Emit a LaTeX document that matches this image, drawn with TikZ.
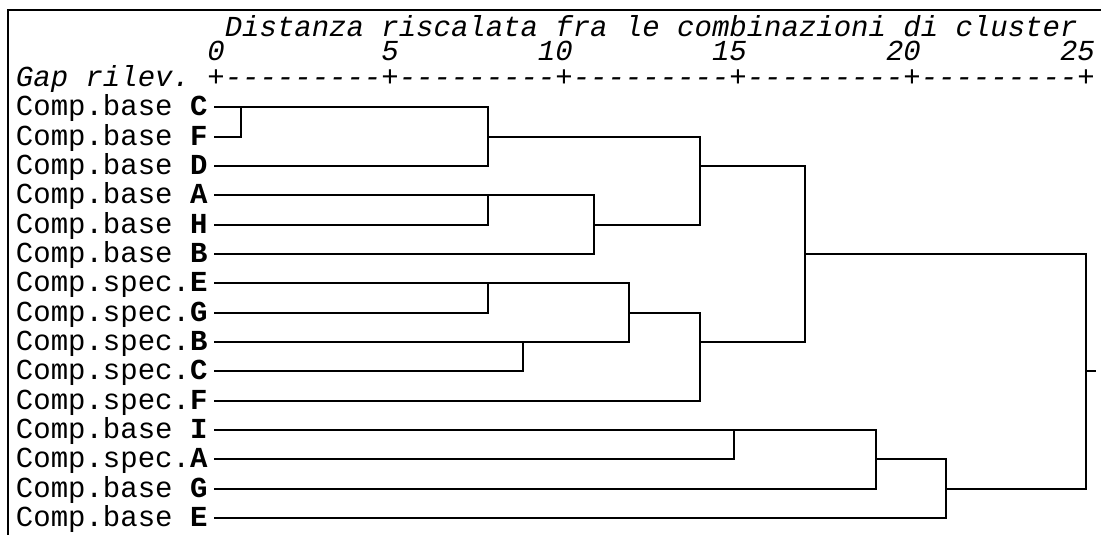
\documentclass[tikz,border=0pt]{standalone}
\usepackage{fontspec}
\setmonofont{Liberation Mono}
\begin{document}
\begin{tikzpicture}[x=1pt,y=-1pt,
  every node/.style={font=\ttfamily\fontsize{29}{29}\selectfont},
  lbl/.style={anchor=base west, inner sep=0pt, outer sep=0pt},
  num/.style={anchor=base east, inner sep=0pt, outer sep=0pt, text height=17pt, text depth=0pt, font=\ttfamily\itshape\fontsize{29}{29}\selectfont},
  hdr/.style={anchor=base west, inner sep=0pt, outer sep=0pt, text depth=0pt, font=\ttfamily\itshape\fontsize{29}{29}\selectfont},
  link/.style={line width=2pt, line cap=rect},
  frame/.style={line width=1.5pt}]
\useasboundingbox (0,0) rectangle (1101,535);
% frame
\coordinate (fb) at (8,535);
\coordinate (fc) at (8,10);
\coordinate (fr) at (1101,10);
\draw[frame] (fb) -- (fc) -- (fr);
% header
\node[hdr] (title) at (224.8,37) {Distanza riscalata fra le combinazioni di cluster};
\node[num] (n0)  at (224.8,61) {0};
\node[num] (n5)  at (398.8,61) {5};
\node[num] (n10) at (572.8,61) {10};
\node[num] (n15) at (746.8,61) {15};
\node[num] (n20) at (920.8,61) {20};
\node[num] (n25) at (1094.8,61) {25};
\node[hdr, text depth=6pt] (gap) at (16,86) {Gap rilev. +{-}{-}{-}{-}{-}{-}{-}{-}{-}+{-}{-}{-}{-}{-}{-}{-}{-}{-}+{-}{-}{-}{-}{-}{-}{-}{-}{-}+{-}{-}{-}{-}{-}{-}{-}{-}{-}+{-}{-}{-}{-}{-}{-}{-}{-}{-}+};
% labels
\node[lbl] (l1)  at (16,115.8) {Comp.base \textbf{C}};
\node[lbl] (l2)  at (16,145.1) {Comp.base \textbf{F}};
\node[lbl] (l3)  at (16,174.5) {Comp.base \textbf{D}};
\node[lbl] (l4)  at (16,203.8) {Comp.base \textbf{A}};
\node[lbl] (l5)  at (16,233.1) {Comp.base \textbf{H}};
\node[lbl] (l6)  at (16,262.5) {Comp.base \textbf{B}};
\node[lbl] (l7)  at (16,291.8) {Comp.spec.\textbf{E}};
\node[lbl] (l8)  at (16,321.1) {Comp.spec.\textbf{G}};
\node[lbl] (l9)  at (16,350.5) {Comp.spec.\textbf{B}};
\node[lbl] (l10) at (16,379.8) {Comp.spec.\textbf{C}};
\node[lbl] (l11) at (16,409.1) {Comp.spec.\textbf{F}};
\node[lbl] (l12) at (16,438.5) {Comp.base \textbf{I}};
\node[lbl] (l13) at (16,467.8) {Comp.spec.\textbf{A}};
\node[lbl] (l14) at (16,497.1) {Comp.base \textbf{G}};
\node[lbl] (l15) at (16,526.5) {Comp.base \textbf{E}};
% line starts
\coordinate (s1)  at (215,107.3);
\coordinate (s2)  at (215,136.6);
\coordinate (s3)  at (215,166.0);
\coordinate (s4)  at (215,195.3);
\coordinate (s5)  at (215,224.6);
\coordinate (s6)  at (215,254.0);
\coordinate (s7)  at (215,283.3);
\coordinate (s8)  at (215,312.6);
\coordinate (s9)  at (215,342.0);
\coordinate (s10) at (215,371.3);
\coordinate (s11) at (215,400.6);
\coordinate (s12) at (215,430.0);
\coordinate (s13) at (215,459.3);
\coordinate (s14) at (215,488.6);
\coordinate (s15) at (215,518.0);
% join coordinates
\coordinate (cf1) at (241,107.3);  \coordinate (cf2) at (241,136.6);
\coordinate (cfd1) at (488,107.3); \coordinate (cfd2) at (488,136.6); \coordinate (cfd3) at (488,166.0);
\coordinate (ah4) at (488,195.3);  \coordinate (ah5) at (488,224.6);
\coordinate (ahb4) at (594,195.3); \coordinate (ahb5) at (594,224.6); \coordinate (ahb6) at (594,254.0);
\coordinate (bs2) at (700,136.6);  \coordinate (bs3) at (700,166.0); \coordinate (bs5) at (700,224.6);
\coordinate (eg7) at (488,283.3);  \coordinate (eg8) at (488,312.6);
\coordinate (bc9) at (523,342.0);  \coordinate (bc10) at (523,371.3);
\coordinate (ebc7) at (629,283.3); \coordinate (ebc8) at (629,312.6); \coordinate (ebc9) at (629,342.0);
\coordinate (sp8) at (700,312.6);  \coordinate (sp9) at (700,342.0); \coordinate (sp11) at (700,400.6);
\coordinate (tp3) at (805,166.0);  \coordinate (tp6) at (805,254.0); \coordinate (tp9) at (805,342.0);
\coordinate (ia12) at (734,430.0); \coordinate (ia13) at (734,459.3);
\coordinate (iag12) at (876,430.0); \coordinate (iag13) at (876,459.3); \coordinate (iag14) at (876,488.6);
\coordinate (bt13) at (946,459.3); \coordinate (bt14) at (946,488.6); \coordinate (bt15) at (946,518.0);
\coordinate (rt6) at (1086,254.0); \coordinate (rt10) at (1086,371.3); \coordinate (rt14) at (1086,488.6);
\coordinate (stub) at (1095,371.3);
% base cluster
\draw[link] (s1) -- (cfd1);
\draw[link] (s2) -- (cf2) -- (cf1);
\draw[link] (s3) -- (cfd3) -- (cfd1);
\draw[link] (cfd2) -- (bs2);
\draw[link] (s4) -- (ahb4);
\draw[link] (s5) -- (ah5) -- (ah4);
\draw[link] (s6) -- (ahb6) -- (ahb4);
\draw[link] (ahb5) -- (bs5);
\draw[link] (bs2) -- (bs5);
\draw[link] (bs3) -- (tp3);
% spec cluster
\draw[link] (s7) -- (ebc7);
\draw[link] (s8) -- (eg8) -- (eg7);
\draw[link] (s9) -- (ebc9) -- (ebc7);
\draw[link] (s10) -- (bc10) -- (bc9);
\draw[link] (ebc8) -- (sp8);
\draw[link] (s11) -- (sp11) -- (sp8);
\draw[link] (sp9) -- (tp9);
\draw[link] (tp3) -- (tp9);
\draw[link] (tp6) -- (rt6);
% bottom cluster
\draw[link] (s12) -- (iag12);
\draw[link] (s13) -- (ia13) -- (ia12);
\draw[link] (s14) -- (iag14) -- (iag12);
\draw[link] (iag13) -- (bt13);
\draw[link] (s15) -- (bt15) -- (bt13);
\draw[link] (bt14) -- (rt14);
% root
\draw[link] (rt6) -- (rt14);
\draw[link] (rt10) -- (stub);
\end{tikzpicture}
\end{document}
